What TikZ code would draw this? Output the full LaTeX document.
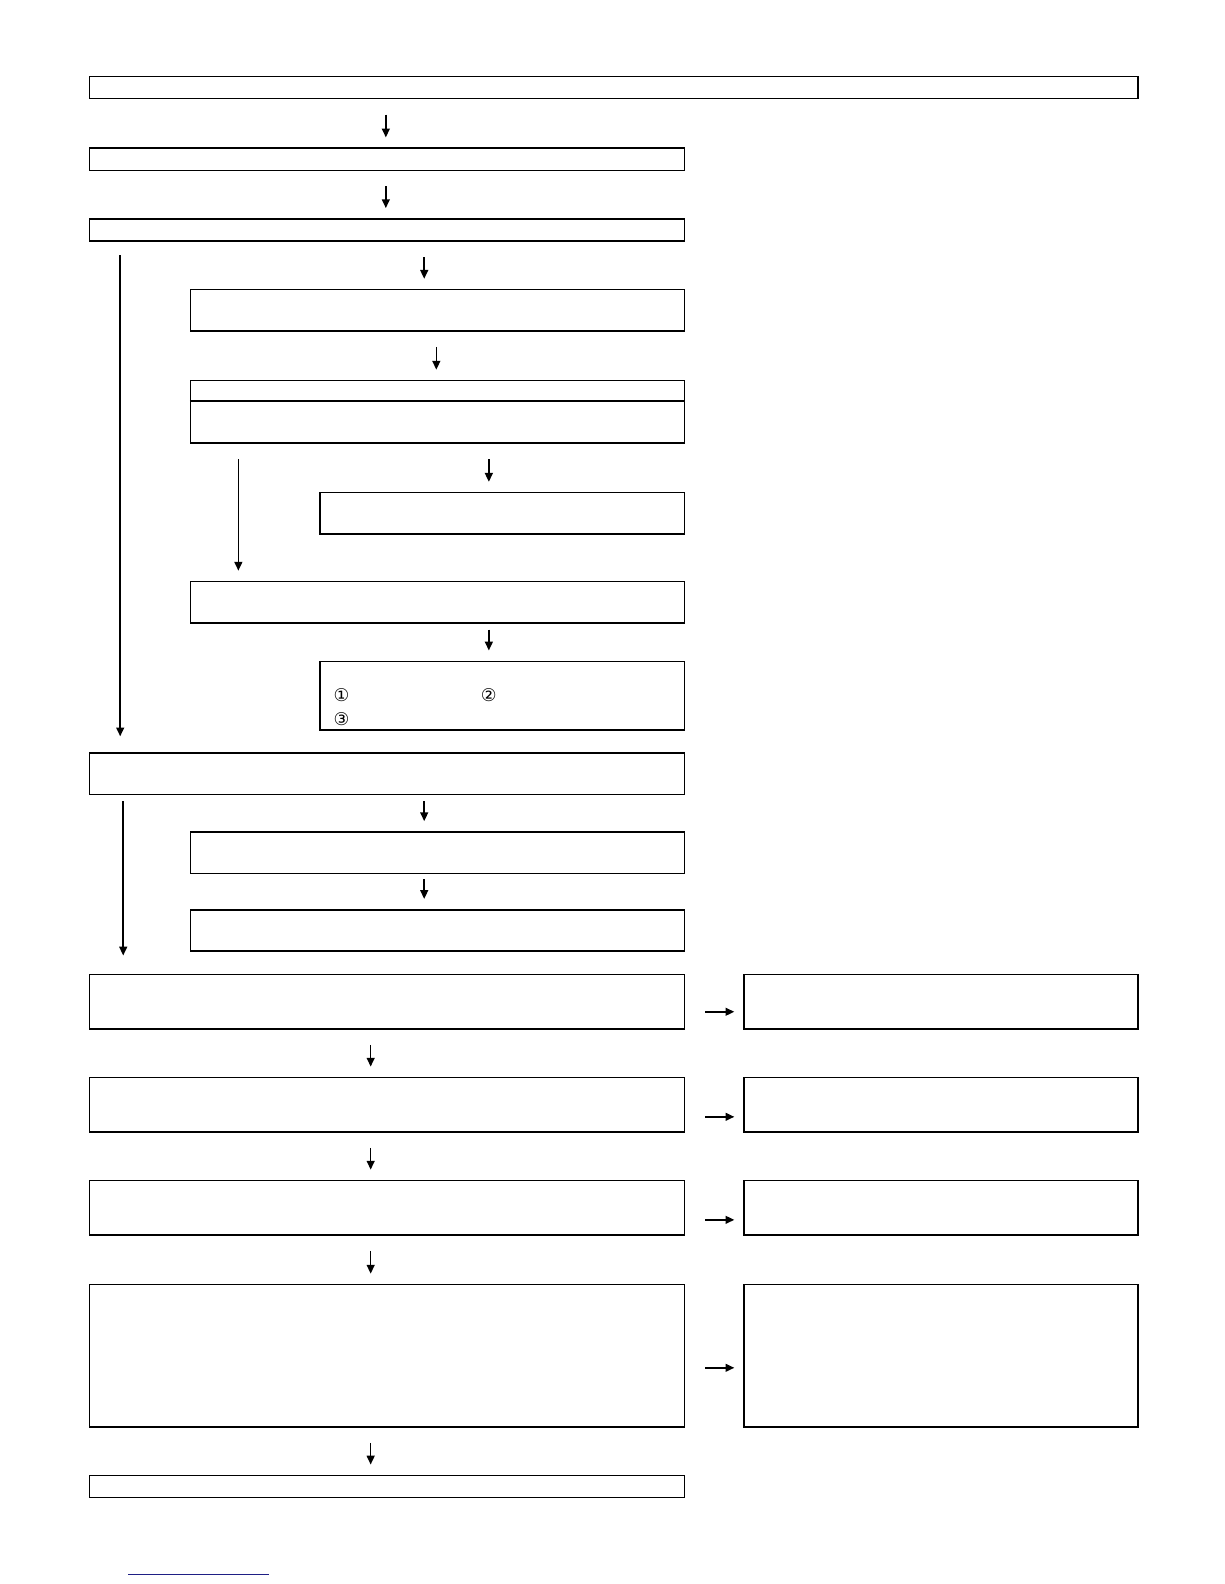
\documentclass[tikz,border=0pt]{standalone}
\usepackage{fontspec}
\usetikzlibrary{arrows.meta, calc, positioning}
\newfontfamily\circfont{DejaVu Sans}
\definecolor{linkblue}{rgb}{0.12,0.12,0.52}
\newcommand\px{0.0202cm}

\begin{document}
\begin{tikzpicture}[x=\px, y=-\px,
  stepbox/.style={draw, line width=0.85pt, anchor=north west, inner sep=0pt, minimum width=589*\px},
  subbox/.style={stepbox, minimum width=489*\px, minimum height=41*\px},
  smallbox/.style={stepbox, minimum width=361*\px},
  notebox/.style={stepbox, minimum width=390*\px, minimum height=54*\px},
  arr/.style={line width=0.85pt, -{Triangle[length=5pt, width=4.5pt]}, shorten <=15*\px, shorten >=10*\px},
  num/.style={font=\circfont, inner sep=0pt}
  ]
  \useasboundingbox (0,0) rectangle (1211.9,1568.3);

  % columns of the arrows
  \coordinate (cA) at (382,0);
  \coordinate (cB) at (420,0);
  \coordinate (cC) at (432,0);
  \coordinate (cD) at (484,0);
  \coordinate (cE) at (119,0);
  \coordinate (cF) at (236,0);
  \coordinate (cG) at (122,0);
  \coordinate (cH) at (367,0);

  % main column
  \node[stepbox, minimum width=1038*\px, minimum height=22*\px] (top) at (88,75) {};
  \node[stepbox, minimum height=22*\px] (s1) at (88,146) {};
  \node[stepbox, minimum height=22*\px] (s2) at (88,216) {};
  \node[subbox] (s3) at (188,286) {};
  \node[subbox, minimum height=62*\px] (s4) at (188,376) {};
  \draw[line width=0.85pt] ($(s4.north west)+(0,21)$) -- ($(s4.north east)+(0,21)$);
  \node[smallbox, minimum height=41*\px] (s5) at (316,487) {};
  \node[subbox] (s6) at (188,575) {};
  \node[smallbox, minimum height=68*\px] (s7) at (316,654) {};
  \node[num] (n1) at (338,688) {①};
  \node[num] (n2) at (484,688) {②};
  \node[num] (n3) at (338,712) {③};
  \node[stepbox, minimum height=41*\px] (s8) at (88,745) {};
  \node[subbox] (s9) at (188,823) {};
  \node[subbox] (s10) at (188,900) {};

  % lower part with notes
  \node[stepbox, minimum height=54*\px] (t1) at (88,964) {};
  \node[stepbox, minimum height=54*\px] (t2) at (88,1066) {};
  \node[stepbox, minimum height=54*\px] (t3) at (88,1168) {};
  \node[stepbox, minimum height=141*\px] (t4) at (88,1271) {};
  \node[stepbox, minimum height=22*\px] (last) at (88,1460) {};
  \node[notebox] (r1) at (736,964) {};
  \node[notebox] (r2) at (736,1066) {};
  \node[notebox] (r3) at (736,1168) {};
  \node[notebox, minimum height=141*\px] (r4) at (736,1271) {};

  \path[arr] (top.south -| cA) edge (s1.north -| cA)
  (s1.south -| cA) edge (s2.north -| cA)
  (s2.south -| cB) edge (s3.north -| cB)
  (s3.south -| cC) edge (s4.north -| cC)
  (s4.south -| cD) edge (s5.north -| cD)
  (s2.south -| cE) edge[shorten <=13*\px, shorten >=16*\px] (s8.north -| cE)
  (s4.south -| cF) edge[shorten >=10*\px] (s6.north -| cF)
  (s6.south -| cD) edge[shorten <=6*\px] (s7.north -| cD)
  (s8.south -| cB) edge[shorten <=6*\px] (s9.north -| cB)
  (s9.south -| cB) edge[shorten <=5*\px] (s10.north -| cB)
  (s8.south -| cG) edge[shorten <=6*\px, shorten >=18*\px] (t1.north -| cG)
  (t1.south -| cH) edge (t2.north -| cH)
  (t2.south -| cH) edge (t3.north -| cH)
  (t3.south -| cH) edge (t4.north -| cH)
  (t4.south -| cH) edge (last.north -| cH);

  \path[arr, shorten <=20*\px, shorten >=9*\px] ($(t1.east)+(0,10)$) edge ($(r1.west)+(0,10)$)
  ($(t2.east)+(0,12)$) edge ($(r2.west)+(0,12)$)
  ($(t3.east)+(0,12)$) edge ($(r3.west)+(0,12)$)
  ($(t4.east)+(0,12)$) edge ($(r4.west)+(0,12)$);

  \draw[linkblue, line width=0.6pt] (127,1559) coordinate (u1) -- (266,1559) coordinate (u2);
\end{tikzpicture}
\end{document}
